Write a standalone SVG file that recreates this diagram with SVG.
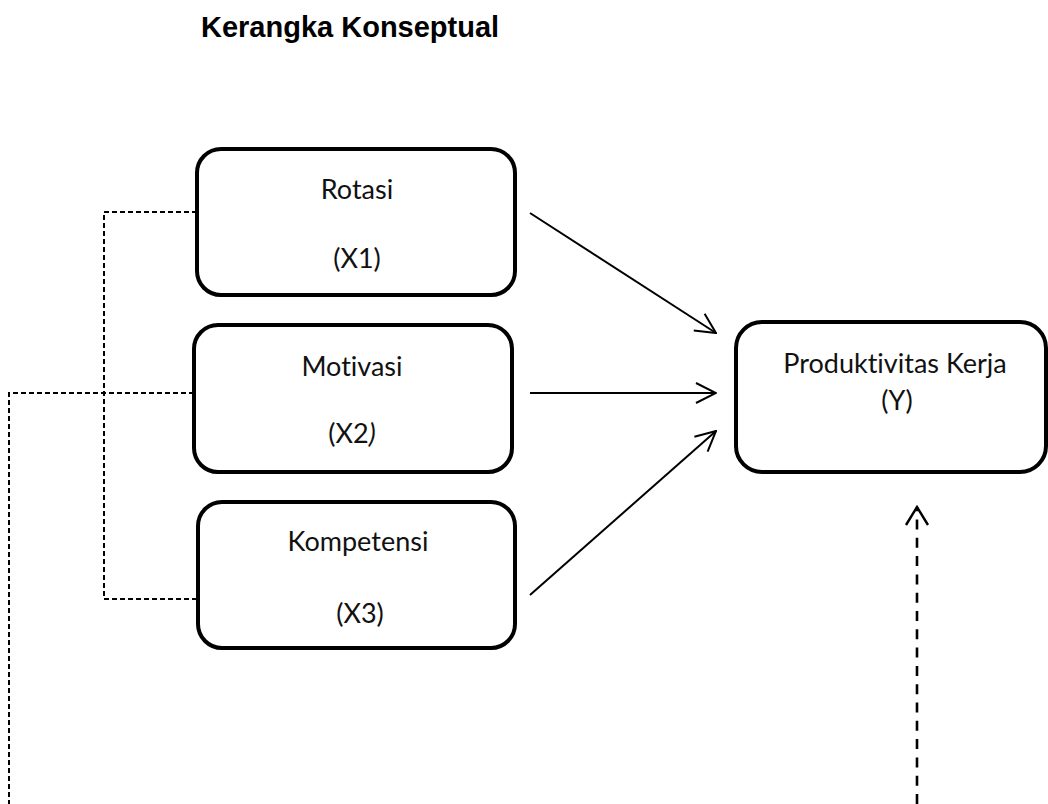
<svg xmlns="http://www.w3.org/2000/svg" width="1048" height="804" viewBox="0 0 1048 804">
<style>
.box{fill:#fff;stroke:#000;stroke-width:4}
.lbl{font-family:Lato,"Open Sans",sans-serif;font-size:27px;fill:#111;text-anchor:middle;font-variant-ligatures:none;font-feature-settings:"liga" 0}
.title{font-family:"Liberation Sans",Arial,sans-serif;font-size:29px;font-weight:bold;fill:#000}
.solid{stroke:#000;stroke-width:2;fill:none}
.dash{stroke:#000;stroke-width:2;fill:none;stroke-dasharray:5 3}
.bigdash{stroke:#000;stroke-width:2.6;fill:none;stroke-dasharray:10 8.3}
</style>
<defs>
<marker id="ah" viewBox="0 0 22 22" refX="21" refY="11" markerWidth="22" markerHeight="22" markerUnits="userSpaceOnUse" orient="auto">
<path d="M1,1 L21,11 L1,21" fill="none" stroke="#000" stroke-width="2"/>
</marker>
<marker id="ah2" viewBox="0 0 22 26" refX="20" refY="13" markerWidth="22" markerHeight="26" markerUnits="userSpaceOnUse" orient="auto">
<path d="M2,2 L20,13 L2,24" fill="none" stroke="#000" stroke-width="2.4"/>
</marker>
</defs>
<rect width="1048" height="804" fill="#fff"/>
<text class="title" x="201" y="37">Kerangka Konseptual</text>
<g id="connectors">
<path class="dash" d="M197,212 H104 V599 H198"/>
<path class="dash" d="M194,393 H9 V804"/>
<line class="solid" x1="530" y1="213" x2="716" y2="333" marker-end="url(#ah)"/>
<line class="solid" x1="530" y1="393" x2="716" y2="393" marker-end="url(#ah)"/>
<line class="solid" x1="530" y1="595" x2="716" y2="431" marker-end="url(#ah)"/>
<line class="bigdash" x1="917" y1="804" x2="917" y2="507" marker-end="url(#ah2)"/>
</g>
<g id="rotasi">
<rect class="box" x="197" y="149" width="318" height="146" rx="24"/>
<text class="lbl" x="357" y="199">Rotasi</text>
<text class="lbl" x="357" y="268">(X1)</text>
</g>
<g id="motivasi">
<rect class="box" x="194" y="325" width="318" height="147" rx="24"/>
<text class="lbl" x="352" y="376">Motivasi</text>
<text class="lbl" x="352" y="443">(X2<tspan font-style="italic">)</tspan></text>
</g>
<g id="kompetensi">
<rect class="box" x="198" y="502" width="317" height="146" rx="24"/>
<text class="lbl" x="358" y="551">Kompetensi</text>
<text class="lbl" x="360" y="623">(X3)</text>
</g>
<g id="produktivitas">
<rect class="box" x="736" y="322" width="310" height="150" rx="26"/>
<text class="lbl" x="895" y="373">Produktivitas Kerja</text>
<text class="lbl" x="897" y="410">(Y)</text>
</g>
</svg>
